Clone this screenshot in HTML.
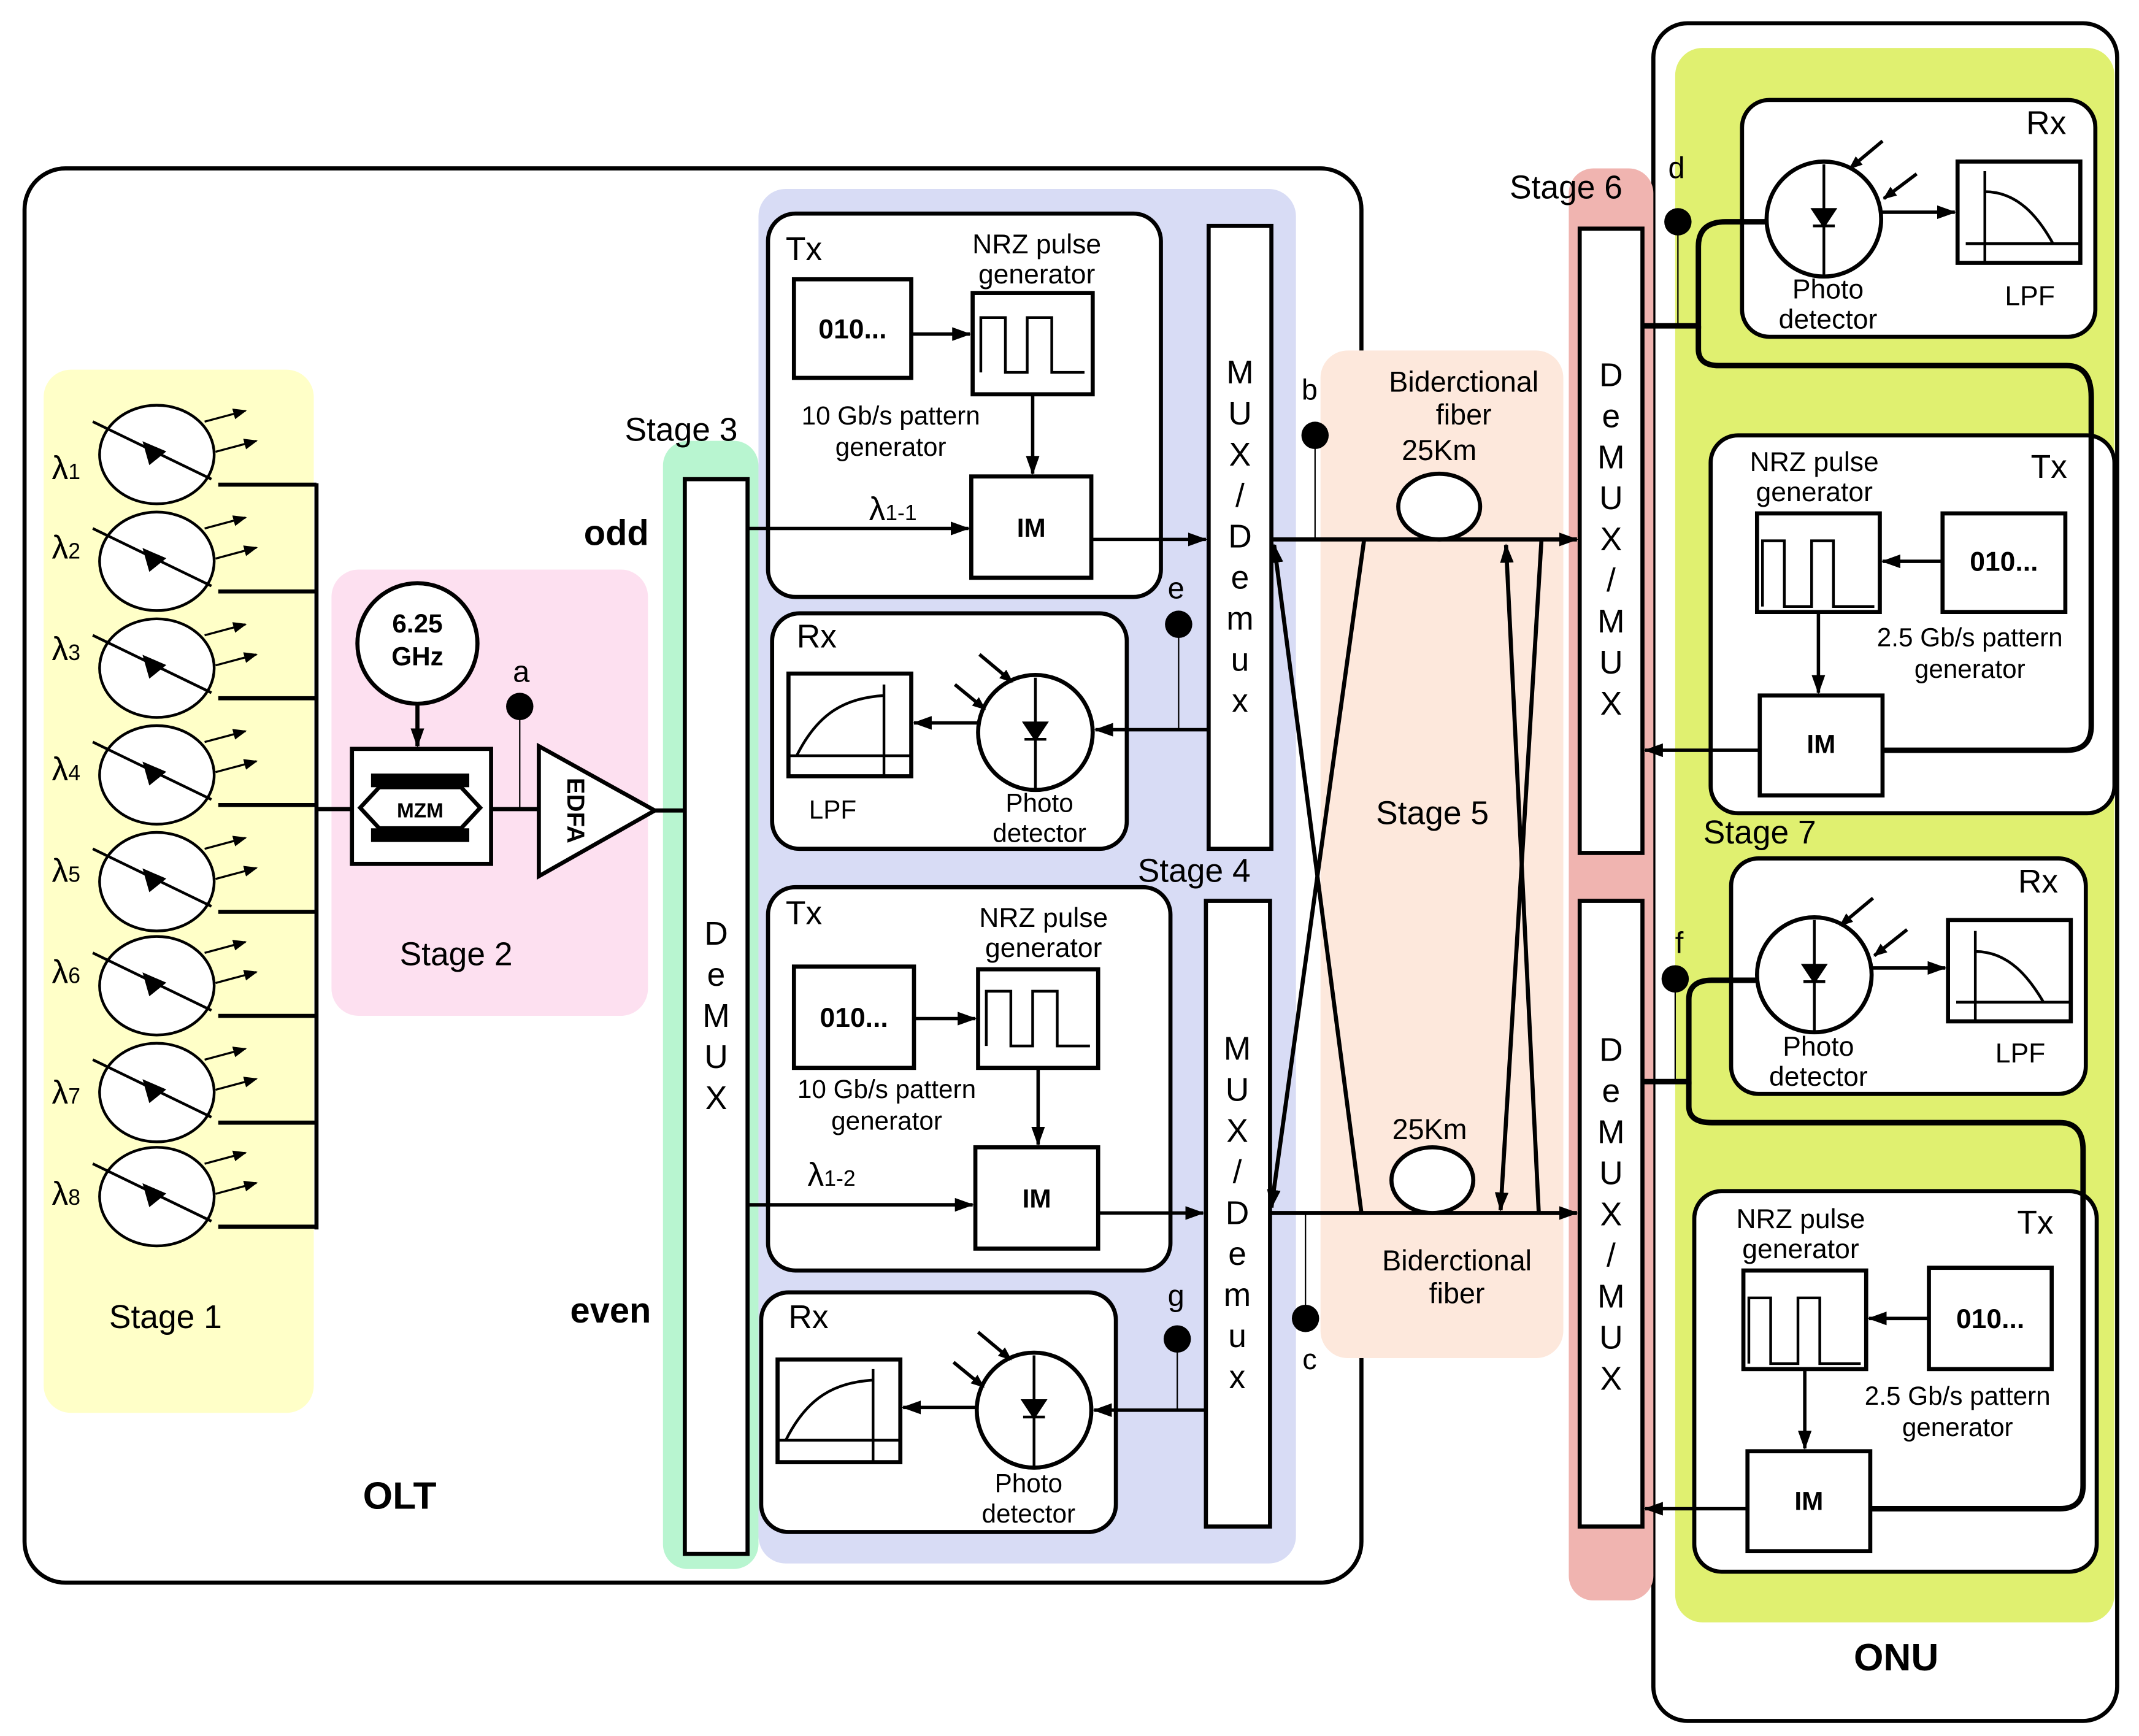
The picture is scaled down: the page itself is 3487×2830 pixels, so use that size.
<!DOCTYPE html>
<html><head><meta charset="utf-8"><style>
html,body{margin:0;padding:0;background:#fff;}
svg{display:block;}
text{font-family:"Liberation Sans",sans-serif;fill:#000;}
</style></head><body>
<svg width="3487" height="2830" viewBox="0 0 1568 1268" preserveAspectRatio="none" xmlns="http://www.w3.org/2000/svg">
<defs>
<marker id="ar" markerWidth="10" markerHeight="8" refX="9" refY="4" orient="auto" markerUnits="userSpaceOnUse"><path d="M0,0 L10,4 L0,8 Z" fill="#000"/></marker>
<marker id="as" markerWidth="14" markerHeight="10" refX="13" refY="5" orient="auto" markerUnits="userSpaceOnUse"><path d="M0,0 L14,5 L0,10 Z" fill="#000"/></marker>
</defs>
<rect x="18" y="123" width="980" height="1033" rx="30" fill="none" stroke="#000" stroke-width="3"/>
<rect x="1212" y="17" width="340" height="1240" rx="25" fill="none" stroke="#000" stroke-width="3"/>
<rect x="32" y="270" width="198" height="762" rx="20" fill="#ffffc8"/>
<rect x="243" y="416" width="232" height="326" rx="20" fill="#fde0f0"/>
<rect x="486" y="322" width="70" height="824" rx="18" fill="#b8f5d0"/>
<rect x="556" y="138" width="394" height="1004" rx="20" fill="#d8dcf5"/>
<rect x="968" y="256" width="178" height="736" rx="20" fill="#fde8dc"/>
<rect x="1150" y="123" width="62" height="1046" rx="18" fill="#f0b4b0"/>
<rect x="1228" y="35" width="322" height="1150" rx="20" fill="#e0f070"/>

<g stroke="#000" stroke-width="2" fill="#fff">
<g id="las">
<ellipse cx="115" cy="332" rx="42" ry="36"/>
<line x1="68" y1="308" x2="155" y2="350"/>
<path d="M106,324 L120,330 L110,338 Z" fill="#000"/>
<line x1="150" y1="308" x2="180" y2="300" marker-end="url(#ar)" stroke-width="1.5"/>
<line x1="158" y1="330" x2="188" y2="322" marker-end="url(#ar)" stroke-width="1.5"/>
<line x1="160" y1="354" x2="232" y2="354" stroke-width="3"/>
</g>
<use href="#las" y="78"/><use href="#las" y="156"/><use href="#las" y="234"/><use href="#las" y="312"/>
<use href="#las" y="388"/><use href="#las" y="466"/><use href="#las" y="542"/>
</g>
<line x1="232" y1="353" x2="232" y2="898" stroke="#000" stroke-width="3"/>
<g font-size="24">
<text x="38" y="350">λ<tspan font-size="16">1</tspan></text>
<text x="38" y="408">λ<tspan font-size="16">2</tspan></text>
<text x="38" y="482">λ<tspan font-size="16">3</tspan></text>
<text x="38" y="570">λ<tspan font-size="16">4</tspan></text>
<text x="38" y="644">λ<tspan font-size="16">5</tspan></text>
<text x="38" y="718">λ<tspan font-size="16">6</tspan></text>
<text x="38" y="806">λ<tspan font-size="16">7</tspan></text>
<text x="38" y="880">λ<tspan font-size="16">8</tspan></text>
</g>
<text x="80" y="970" font-size="24">Stage 1</text>

<!-- stage 2 -->
<circle cx="306" cy="470" r="44" fill="#fff" stroke="#000" stroke-width="3"/>
<text x="306" y="462" font-size="19" font-weight="bold" text-anchor="middle">6.25</text>
<text x="306" y="486" font-size="19" font-weight="bold" text-anchor="middle">GHz</text>
<line x1="306" y1="514" x2="306" y2="545" stroke="#000" stroke-width="3" marker-end="url(#as)"/>
<rect x="258" y="547" width="102" height="84" fill="#fff" stroke="#000" stroke-width="3"/>
<rect x="272" y="565" width="72" height="10" fill="#000"/><rect x="272" y="605" width="72" height="10" fill="#000"/>
<path d="M264,590 L278,575 L338,575 L352,590 L338,605 L278,605 Z" fill="#fff" stroke="#000" stroke-width="3"/>
<text x="308" y="597" font-size="15" font-weight="bold" text-anchor="middle">MZM</text>
<line x1="232" y1="591" x2="258" y2="591" stroke="#000" stroke-width="3"/>
<line x1="360" y1="591" x2="395" y2="591" stroke="#000" stroke-width="3"/>
<path d="M395,545 L395,640 L480,592 Z" fill="#fff" stroke="#000" stroke-width="3"/>
<text x="416" y="592" font-size="18" font-weight="bold" transform="rotate(90 416 592)" text-anchor="middle">EDFA</text>
<line x1="480" y1="592" x2="502" y2="592" stroke="#000" stroke-width="3"/>
<line x1="381" y1="516" x2="381" y2="591" stroke="#000" stroke-width="1"/>
<circle cx="381" cy="516" r="10" fill="#000"/>
<text x="376" y="498" font-size="22">a</text>
<text x="293" y="705" font-size="24">Stage 2</text>

<!-- stage 3 -->
<text x="458" y="322" font-size="24">Stage 3</text>
<rect x="502" y="350" width="46" height="785" fill="#fff" stroke="#000" stroke-width="3"/>
<g font-size="24" text-anchor="middle"><text x="525" y="690">D</text><text x="525" y="720">e</text><text x="525" y="750">M</text><text x="525" y="780">U</text><text x="525" y="810">X</text></g>
<text x="428" y="398" font-size="26" font-weight="bold">odd</text>
<text x="418" y="966" font-size="26" font-weight="bold">even</text>

<!-- stage 4 -->
<g stroke="#000" stroke-width="3" fill="#fff">
<rect x="563" y="156" width="288" height="280" rx="20"/>
<rect x="582" y="204" width="86" height="72"/>
<rect x="713" y="214" width="88" height="74"/>
<rect x="712" y="348" width="88" height="74"/>
<rect x="886" y="165" width="46" height="455"/>
<rect x="566" y="448" width="260" height="172" rx="20"/>
<rect x="578" y="492" width="90" height="75"/>
<circle cx="759" cy="535" r="42"/>
<rect x="563" y="648" width="295" height="280" rx="20"/>
<rect x="582" y="706" width="88" height="74"/>
<rect x="717" y="708" width="88" height="72"/>
<rect x="715" y="838" width="90" height="74"/>
<rect x="884" y="658" width="47" height="457"/>
<rect x="558" y="944" width="260" height="175" rx="20"/>
<rect x="570" y="993" width="90" height="75"/>
<circle cx="758" cy="1030" r="42"/>
</g>
<g stroke="#000" stroke-width="2" fill="none">
<path d="M719,272 V232 H737 V272 H753 V232 H771 V272 H795"/>
<path d="M723,764 V724 H741 V764 H757 V724 H775 V764 H799"/>
<path d="M584,552 C600,520 620,510 648,508 M648,500 V567 M578,552 H668"/>
<path d="M576,1052 C592,1020 612,1010 640,1008 M640,1000 V1068 M570,1052 H660"/>
<line x1="759" y1="495" x2="759" y2="577"/><line x1="758" y1="990" x2="758" y2="1072"/>
</g>
<path d="M751,528 L767,528 L759,540 Z M751,540 H767" fill="#000" stroke="#000" stroke-width="2"/>
<path d="M750,1023 L766,1023 L758,1035 Z M750,1035 H766" fill="#000" stroke="#000" stroke-width="2"/>
<g stroke="#000" stroke-width="2.5">
<line x1="718" y1="478" x2="742" y2="498" marker-end="url(#ar)"/>
<line x1="700" y1="500" x2="722" y2="518" marker-end="url(#ar)"/>
<line x1="717" y1="973" x2="741" y2="993" marker-end="url(#ar)"/>
<line x1="699" y1="995" x2="721" y2="1013" marker-end="url(#ar)"/>
<line x1="668" y1="244" x2="711" y2="244" marker-end="url(#as)"/>
<line x1="757" y1="288" x2="757" y2="346" marker-end="url(#as)"/>
<line x1="548" y1="386" x2="710" y2="386" marker-end="url(#as)"/>
<line x1="800" y1="394" x2="884" y2="394" marker-end="url(#as)"/>
<line x1="886" y1="533" x2="803" y2="533" marker-end="url(#as)"/>
<line x1="717" y1="528" x2="670" y2="528" marker-end="url(#as)"/>
<line x1="670" y1="744" x2="715" y2="744" marker-end="url(#as)"/>
<line x1="761" y1="780" x2="761" y2="836" marker-end="url(#as)"/>
<line x1="548" y1="880" x2="713" y2="880" marker-end="url(#as)"/>
<line x1="805" y1="886" x2="882" y2="886" marker-end="url(#as)"/>
<line x1="884" y1="1030" x2="802" y2="1030" marker-end="url(#as)"/>
<line x1="716" y1="1028" x2="662" y2="1028" marker-end="url(#as)"/>
</g>
<line x1="864" y1="456" x2="864" y2="533" stroke="#000" stroke-width="1"/><circle cx="864" cy="456" r="10" fill="#000"/>
<line x1="863" y1="978" x2="863" y2="1030" stroke="#000" stroke-width="1"/><circle cx="863" cy="978" r="10" fill="#000"/>
<g font-size="22">
<text x="576" y="190" font-size="24">Tx</text>
<text x="760" y="185" font-size="20" text-anchor="middle">NRZ pulse</text>
<text x="760" y="207" font-size="20" text-anchor="middle">generator</text>
<text x="625" y="247" font-weight="bold" font-size="20" text-anchor="middle">010...</text>
<text x="653" y="310" font-size="19" text-anchor="middle">10 Gb/s pattern</text>
<text x="653" y="333" font-size="19" text-anchor="middle">generator</text>
<text x="637" y="380" font-size="24">λ<tspan font-size="16">1-1</tspan></text>
<text x="756" y="392" font-weight="bold" font-size="19" text-anchor="middle">IM</text>
<text x="584" y="473" font-size="24">Rx</text>
<text x="593" y="598" font-size="19">LPF</text>
<text x="762" y="593" font-size="19" text-anchor="middle">Photo</text>
<text x="762" y="615" font-size="19" text-anchor="middle">detector</text>
<text x="856" y="437">e</text>
<text x="576" y="675" font-size="24">Tx</text>
<text x="765" y="677" font-size="20" text-anchor="middle">NRZ pulse</text>
<text x="765" y="699" font-size="20" text-anchor="middle">generator</text>
<text x="626" y="750" font-weight="bold" font-size="20" text-anchor="middle">010...</text>
<text x="650" y="802" font-size="19" text-anchor="middle">10 Gb/s pattern</text>
<text x="650" y="825" font-size="19" text-anchor="middle">generator</text>
<text x="592" y="866" font-size="24">λ<tspan font-size="16">1-2</tspan></text>
<text x="760" y="882" font-weight="bold" font-size="19" text-anchor="middle">IM</text>
<text x="578" y="970" font-size="24">Rx</text>
<text x="754" y="1090" font-size="19" text-anchor="middle">Photo</text>
<text x="754" y="1112" font-size="19" text-anchor="middle">detector</text>
<text x="856" y="954">g</text>
<text x="834" y="644" font-size="24">Stage 4</text>
</g>
<g font-size="24" text-anchor="middle">
<text x="909" y="280">M</text><text x="909" y="310">U</text><text x="909" y="340">X</text><text x="909" y="370">/</text><text x="909" y="400">D</text><text x="909" y="430">e</text><text x="909" y="460">m</text><text x="909" y="490">u</text><text x="909" y="520">x</text>
<text x="907" y="774">M</text><text x="907" y="804">U</text><text x="907" y="834">X</text><text x="907" y="864">/</text><text x="907" y="894">D</text><text x="907" y="924">e</text><text x="907" y="954">m</text><text x="907" y="984">u</text><text x="907" y="1014">x</text>
</g>

<!-- stage 5 fibers -->
<g stroke="#000" stroke-width="3" fill="none">
<line x1="932" y1="394" x2="1156" y2="394" marker-end="url(#as)"/>
<line x1="931" y1="886" x2="1156" y2="886" marker-end="url(#as)"/>
<line x1="1000" y1="394" x2="932" y2="882" marker-end="url(#as)"/>
<line x1="998" y1="886" x2="934" y2="398" marker-end="url(#as)"/>
<line x1="1130" y1="394" x2="1100" y2="884" marker-end="url(#as)"/>
<line x1="1128" y1="886" x2="1104" y2="398" marker-end="url(#as)"/>
<ellipse cx="1055" cy="370" rx="30" ry="24" fill="#fff"/>
<ellipse cx="1050" cy="862" rx="30" ry="24" fill="#fff"/>
</g>
<line x1="964" y1="318" x2="964" y2="394" stroke="#000" stroke-width="1"/><circle cx="964" cy="318" r="10" fill="#000"/>
<line x1="957" y1="886" x2="957" y2="963" stroke="#000" stroke-width="1"/><circle cx="957" cy="963" r="10" fill="#000"/>
<g font-size="21" text-anchor="middle">
<text x="960" y="292">b</text><text x="960" y="1000">c</text>
<text x="1073" y="286">Biderctional</text><text x="1073" y="310">fiber</text><text x="1055" y="336">25Km</text>
<text x="1048" y="832">25Km</text>
<text x="1068" y="928">Biderctional</text><text x="1068" y="952">fiber</text>
<text x="1050" y="602" font-size="24">Stage 5</text>
<text x="1148" y="145" font-size="24">Stage 6</text>
</g>

<!-- stage 6 -->
<rect x="1158" y="167" width="46" height="456" fill="#fff" stroke="#000" stroke-width="3"/>
<rect x="1158" y="658" width="46" height="457" fill="#fff" stroke="#000" stroke-width="3"/>
<g font-size="24" text-anchor="middle">
<text x="1181" y="282">D</text><text x="1181" y="312">e</text><text x="1181" y="342">M</text><text x="1181" y="372">U</text><text x="1181" y="402">X</text><text x="1181" y="432">/</text><text x="1181" y="462">M</text><text x="1181" y="492">U</text><text x="1181" y="522">X</text>
<text x="1181" y="775">D</text><text x="1181" y="805">e</text><text x="1181" y="835">M</text><text x="1181" y="865">U</text><text x="1181" y="895">X</text><text x="1181" y="925">/</text><text x="1181" y="955">M</text><text x="1181" y="985">U</text><text x="1181" y="1015">X</text>
</g>

<!-- ONU -->
<g stroke="#000" stroke-width="3" fill="#fff">
<rect x="1277" y="73" width="259" height="173" rx="20"/>
<circle cx="1337" cy="160" r="42"/>
<rect x="1435" y="118" width="90" height="74"/>
<rect x="1254" y="318" width="296" height="276" rx="20"/>
<rect x="1288" y="375" width="90" height="72"/>
<rect x="1424" y="375" width="90" height="72"/>
<rect x="1290" y="508" width="90" height="73"/>
<rect x="1269" y="627" width="260" height="172" rx="20"/>
<circle cx="1330" cy="712" r="42"/>
<rect x="1428" y="672" width="90" height="74"/>
<rect x="1242" y="870" width="295" height="278" rx="20"/>
<rect x="1278" y="928" width="90" height="72"/>
<rect x="1414" y="926" width="90" height="74"/>
<rect x="1281" y="1060" width="90" height="73"/>
</g>
<g stroke="#000" stroke-width="2" fill="none">
<path d="M1441,178 H1525 M1455,125 V192 M1455,140 C1480,140 1495,160 1505,178"/>
<path d="M1434,732 H1518 M1448,680 V746 M1448,695 C1473,695 1488,715 1498,732"/>
<path d="M1292,443 V395 H1308 V443 H1328 V395 H1344 V443 H1374"/>
<path d="M1282,996 V948 H1298 V996 H1318 V948 H1334 V996 H1364"/>
<line x1="1337" y1="120" x2="1337" y2="202"/><line x1="1330" y1="672" x2="1330" y2="754"/>
</g>
<path d="M1329,153 L1345,153 L1337,165 Z M1329,165 H1345" fill="#000" stroke="#000" stroke-width="2"/>
<path d="M1322,705 L1338,705 L1330,717 Z M1322,717 H1338" fill="#000" stroke="#000" stroke-width="2"/>
<g stroke="#000" stroke-width="2.5" fill="none">
<line x1="1380" y1="103" x2="1356" y2="123" marker-end="url(#ar)"/>
<line x1="1405" y1="127" x2="1381" y2="145" marker-end="url(#ar)"/>
<line x1="1373" y1="656" x2="1349" y2="676" marker-end="url(#ar)"/>
<line x1="1398" y1="679" x2="1374" y2="698" marker-end="url(#ar)"/>
<line x1="1379" y1="155" x2="1433" y2="155" marker-end="url(#as)"/>
<line x1="1372" y1="707" x2="1426" y2="707" marker-end="url(#as)"/>
<line x1="1424" y1="410" x2="1380" y2="410" marker-end="url(#as)"/>
<line x1="1333" y1="447" x2="1333" y2="506" marker-end="url(#as)"/>
<line x1="1414" y1="963" x2="1370" y2="963" marker-end="url(#as)"/>
<line x1="1323" y1="1000" x2="1323" y2="1058" marker-end="url(#as)"/>
<line x1="1290" y1="548" x2="1206" y2="548" marker-end="url(#as)"/>
<line x1="1281" y1="1102" x2="1206" y2="1102" marker-end="url(#as)"/>
</g>
<g stroke="#000" stroke-width="4" fill="none">
<path d="M1204,238 H1245 V180 Q1245,162 1265,162 H1296"/>
<path d="M1245,238 V255 Q1245,267 1260,267 H1515 Q1533,267 1533,290 V530 Q1533,548 1515,548 H1380"/>
<path d="M1204,790 H1238 V730 Q1238,716 1255,716 H1289"/>
<path d="M1238,790 V808 Q1238,820 1255,820 H1510 Q1527,820 1527,840 V1085 Q1527,1102 1510,1102 H1371"/>
</g>
<line x1="1230" y1="162" x2="1230" y2="238" stroke="#000" stroke-width="1"/><circle cx="1230" cy="162" r="10" fill="#000"/>
<line x1="1228" y1="715" x2="1228" y2="790" stroke="#000" stroke-width="1"/><circle cx="1228" cy="715" r="10" fill="#000"/>
<g font-size="20" text-anchor="middle">
<text x="1229" y="130" font-size="22">d</text><text x="1231" y="696" font-size="22">f</text>
<text x="1500" y="98" font-size="24">Rx</text>
<text x="1340" y="218">Photo</text><text x="1340" y="240">detector</text>
<text x="1488" y="223">LPF</text>
<text x="1502" y="349" font-size="24">Tx</text>
<text x="1330" y="344">NRZ pulse</text><text x="1330" y="366">generator</text>
<text x="1469" y="417" font-weight="bold">010...</text>
<text x="1444" y="472" font-size="19">2.5  Gb/s pattern</text><text x="1444" y="495" font-size="19">generator</text>
<text x="1335" y="550" font-weight="bold" font-size="19">IM</text>
<text x="1290" y="616" font-size="24">Stage 7</text>
<text x="1494" y="652" font-size="24">Rx</text>
<text x="1333" y="771">Photo</text><text x="1333" y="793">detector</text>
<text x="1481" y="776">LPF</text>
<text x="1492" y="901" font-size="24">Tx</text>
<text x="1320" y="897">NRZ pulse</text><text x="1320" y="919">generator</text>
<text x="1459" y="970" font-weight="bold">010...</text>
<text x="1435" y="1026" font-size="19">2.5  Gb/s pattern</text><text x="1435" y="1049" font-size="19">generator</text>
<text x="1326" y="1103" font-weight="bold" font-size="19">IM</text>
<text x="1390" y="1220" font-size="28" font-weight="bold">ONU</text>
<text x="293" y="1102" font-size="28" font-weight="bold">OLT</text>
</g>
</svg>
</body></html>
